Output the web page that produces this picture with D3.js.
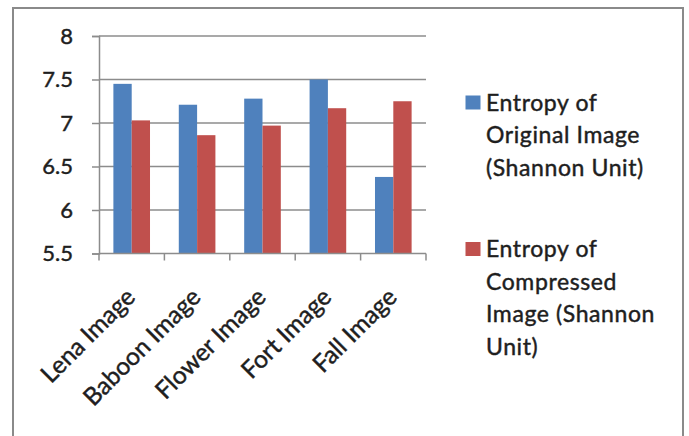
<!DOCTYPE html>
<html>
<head>
<meta charset="utf-8">
<script src="https://cdn.jsdelivr.net/npm/d3@7"></script>
<style>
  html, body { margin: 0; padding: 0; background: #fff; }
  svg { display: block; }
  text { font-family: Lato, "Open Sans", sans-serif; fill: #1e1e1e; stroke: #1e1e1e; stroke-width: 0.45px; }
</style>
</head>
<body>
<svg id="chart" width="689" height="436"></svg>
<script>
// Image names along the x axis
const categories = ["Lena Image", "Baboon Image", "Flower Image", "Fort Image", "Fall Image"];
// Entropy values (Shannon units) per image
const originalEntropy = [7.45, 7.21, 7.28, 7.50, 6.38];
const compressedEntropy = [7.03, 6.86, 6.97, 7.17, 7.25];
// Series names and colours
const seriesNames = ["Entropy of Original Image (Shannon Unit)", "Entropy of Compressed Image (Shannon Unit)"];
const seriesColors = ["#4F81BD", "#C0504D"];
// Legend lines, wrapped as shown beside each swatch
const legendLines = [
  ["Entropy of", "Original Image", "(Shannon Unit)"],
  ["Entropy of", "Compressed", "Image (Shannon", "Unit)"]
];
// y-axis ticks
const yTicks = [5.5, 6, 6.5, 7, 7.5, 8];

const svg = d3.select("#chart");

// outer chart frame
svg.append("rect")
  .attr("x", 13).attr("y", 8)
  .attr("width", 670).attr("height", 440)
  .attr("fill", "#fff")
  .attr("stroke", "#8a8a8a")
  .attr("stroke-width", 2);

const plot = { left: 99, right: 426, top: 36, bottom: 253.5 };

const y = d3.scaleLinear().domain([5.5, 8]).range([plot.bottom, plot.top]);
const x0 = d3.scaleBand().domain(categories)
  .range([plot.left, plot.right])
  .paddingInner(0.44).paddingOuter(0.22);
const x1 = d3.scaleBand().domain([0, 1]).range([0, x0.bandwidth()]);

// horizontal gridlines
svg.append("g")
  .selectAll("line")
  .data(yTicks.filter(t => t > 5.5))
  .join("line")
  .attr("x1", plot.left).attr("x2", plot.right)
  .attr("y1", d => y(d)).attr("y2", d => y(d))
  .attr("stroke", "#8c8c8c").attr("stroke-width", 1.5);

// y axis
const yAxis = svg.append("g")
  .attr("transform", `translate(${plot.left},0)`)
  .call(d3.axisLeft(y).tickValues(yTicks).tickFormat(d3.format("")).tickSize(7).tickPadding(19));
yAxis.select(".domain").attr("stroke", "#8c8c8c").attr("stroke-width", 1.5);
yAxis.selectAll(".tick line").attr("stroke", "#8c8c8c").attr("stroke-width", 1.5);
yAxis.selectAll(".tick text")
  .attr("font-size", 22)
  .attr("font-family", "Lato, sans-serif")
  .attr("fill", "#1e1e1e");

// bars
const rows = categories.map((c, i) => ({ cat: c, vals: [originalEntropy[i], compressedEntropy[i]] }));
svg.append("g")
  .selectAll("g")
  .data(rows)
  .join("g")
  .attr("transform", d => `translate(${x0(d.cat)},0)`)
  .selectAll("rect")
  .data(d => d.vals.map((v, k) => ({ v, k })))
  .join("rect")
  .attr("x", d => x1(d.k))
  .attr("width", x1.bandwidth())
  .attr("y", d => y(d.v))
  .attr("height", d => y(5.5) - y(d.v))
  .attr("fill", d => seriesColors[d.k]);

// x axis with tick marks at category boundaries
const xAxisG = svg.append("g");
xAxisG.append("line")
  .attr("x1", plot.left).attr("x2", plot.right)
  .attr("y1", plot.bottom).attr("y2", plot.bottom)
  .attr("stroke", "#8c8c8c").attr("stroke-width", 1.5);
const boundaries = categories.map(c => x0(c) - x0.step() * x0.paddingInner() / 2).concat([plot.right]);
xAxisG.selectAll("line.tick")
  .data(boundaries)
  .join("line")
  .attr("class", "tick")
  .attr("x1", d => d).attr("x2", d => d)
  .attr("y1", plot.bottom).attr("y2", plot.bottom + 7)
  .attr("stroke", "#8c8c8c").attr("stroke-width", 1.5);

// rotated category labels
xAxisG.selectAll("text")
  .data(categories)
  .join("text")
  .attr("transform", d => `translate(${x0(d) + x0.bandwidth() / 2 + 5},${plot.bottom + 45}) rotate(-45)`)
  .attr("text-anchor", "end")
  .attr("font-size", 24.5)
  .text(d => d);

// legend
const legendBaseline = [110.5, 257];
const lineStep = 32.5;
const legend = svg.append("g");
legendLines.forEach((lines, k) => {
  legend.append("rect")
    .attr("x", 465.5).attr("y", legendBaseline[k] - 15)
    .attr("width", 15).attr("height", 14)
    .attr("fill", seriesColors[k]);
  const t = legend.append("text")
    .attr("font-size", 23)
    .attr("letter-spacing", 0.6)
    .attr("x", 486)
    .attr("y", legendBaseline[k]);
  lines.forEach((ln, j) => {
    t.append("tspan")
      .attr("x", 486)
      .attr("dy", j === 0 ? 0 : lineStep)
      .text(ln);
  });
});
</script>
</body>
</html>
